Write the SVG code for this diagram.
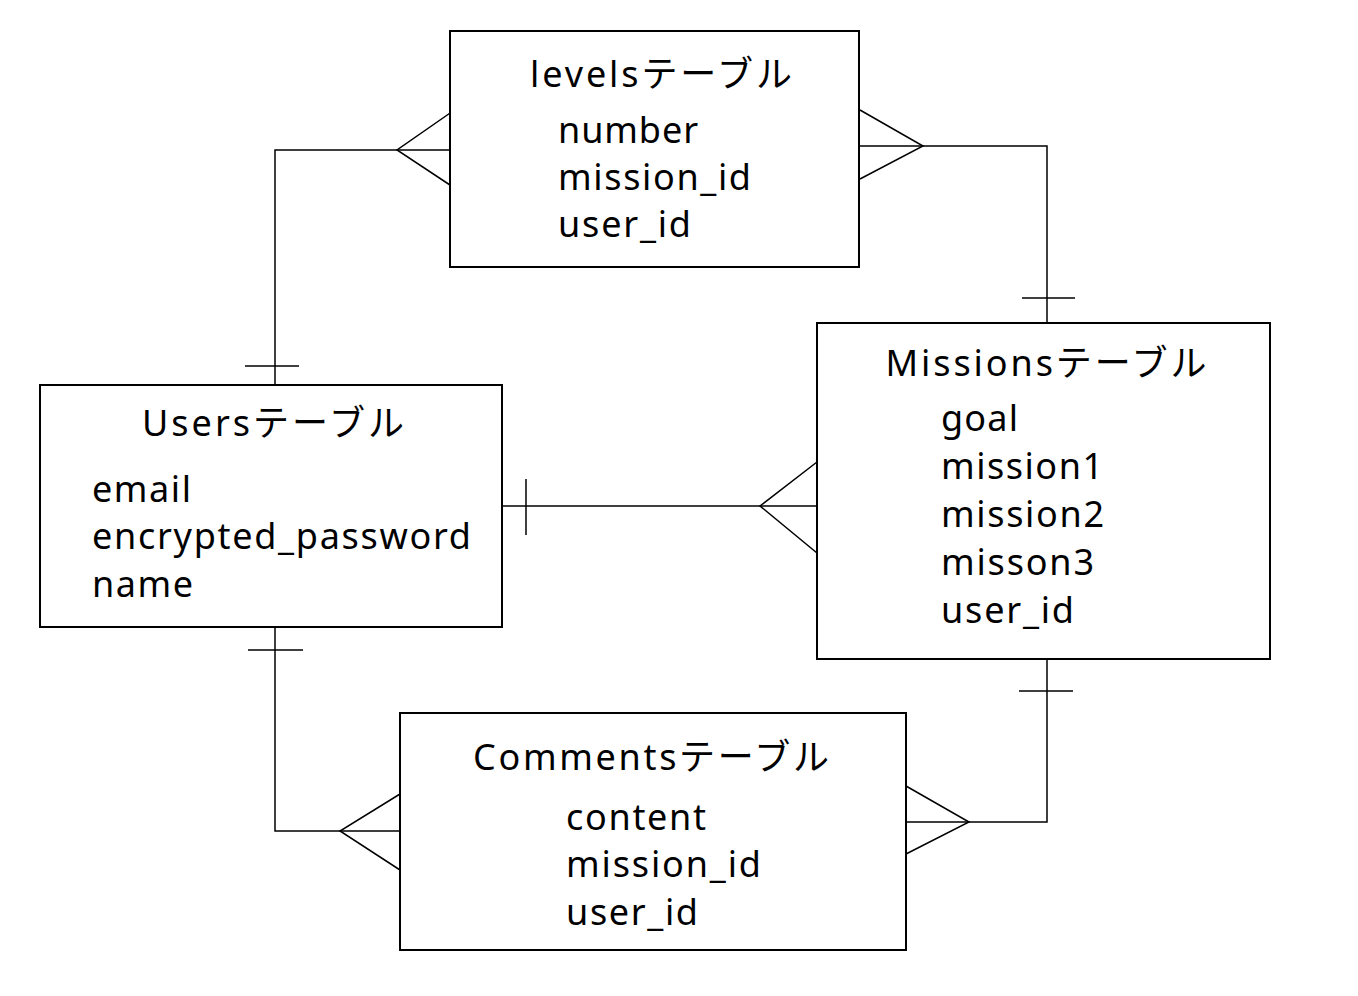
<svg xmlns="http://www.w3.org/2000/svg" width="1358" height="996" viewBox="0 0 1358 996">
<style>
.box{fill:#fff;stroke:#000;stroke-width:2}
.ln{fill:none;stroke:#000;stroke-width:1.5}
text{font-family:"Noto Sans","Noto Sans CJK JP",sans-serif;font-size:36px;fill:#000}
.t{text-anchor:middle}
</style>
<rect width="1358" height="996" fill="#fff"/>
<g id="connectors">
<polyline class="ln" points="450,150 275,150 275,385"/>
<polyline class="ln" points="453,111 397,150 453,187"/>
<line class="ln" x1="245" y1="366" x2="299" y2="366"/>
<polyline class="ln" points="859,146 1047,146 1047,323"/>
<polyline class="ln" points="860,110 923,146 860,179"/>
<line class="ln" x1="1022" y1="298" x2="1075" y2="298"/>
<line class="ln" x1="502" y1="506" x2="817" y2="506"/>
<line class="ln" x1="526" y1="479" x2="526" y2="535"/>
<polyline class="ln" points="817,462 760,506 817,553"/>
<polyline class="ln" points="275,627 275,831 400,831"/>
<line class="ln" x1="248" y1="650" x2="303" y2="650"/>
<polyline class="ln" points="400,794 340,831 400,870"/>
<polyline class="ln" points="1047,659 1047,822 906,822"/>
<line class="ln" x1="1019" y1="691" x2="1073" y2="691"/>
<polyline class="ln" points="906,786 969,822 906,854"/>
</g>
<g id="levels">
<rect class="box" x="450" y="31" width="409" height="236"/>
<text class="t" x="661" y="87" textLength="262">levelsテーブル</text>
<text x="558" y="143" textLength="140">number</text>
<text x="558" y="190" textLength="193">mission_id</text>
<text x="558" y="237" textLength="133">user_id</text>
</g>
<g id="users">
<rect class="box" x="40" y="385" width="462" height="242"/>
<text class="t" x="273" y="436" textLength="262">Usersテーブル</text>
<text x="92" y="502" textLength="99">email</text>
<text x="92" y="549" textLength="379">encrypted_password</text>
<text x="92" y="597" textLength="101">name</text>
</g>
<g id="missions">
<rect class="box" x="817" y="323" width="453" height="336"/>
<text class="t" x="1046" y="376" textLength="321">Missionsテーブル</text>
<text x="941" y="431" textLength="77">goal</text>
<text x="941" y="479" textLength="162">mission1</text>
<text x="941" y="527" textLength="163">mission2</text>
<text x="941" y="575" textLength="153">misson3</text>
<text x="941" y="623" textLength="133">user_id</text>
</g>
<g id="comments">
<rect class="box" x="400" y="713" width="506" height="237"/>
<text class="t" x="651" y="770" textLength="356">Commentsテーブル</text>
<text x="566" y="830" textLength="140">content</text>
<text x="566" y="877" textLength="195">mission_id</text>
<text x="566" y="925" textLength="132">user_id</text>
</g>
</svg>
